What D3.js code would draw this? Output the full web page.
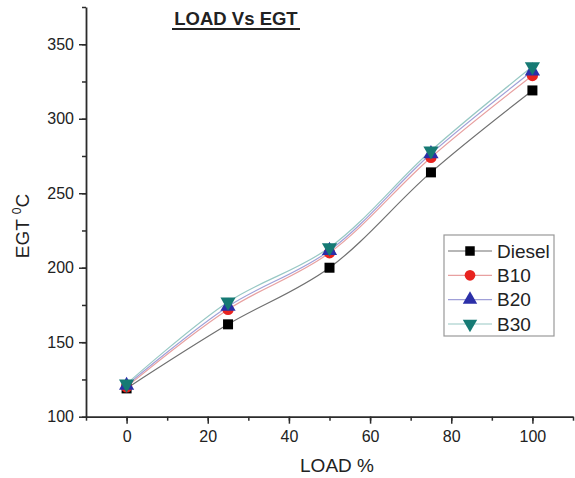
<!DOCTYPE html>
<html>
<head>
<meta charset="utf-8">
<script src="https://cdn.jsdelivr.net/npm/d3@7"></script>
<style>
  body { margin: 0; background: #fff; }
  svg { font-family: "Liberation Sans", Arial, sans-serif; }
</style>
</head>
<body>
<svg id="chart" width="575" height="478"></svg>
<script>
// chart data
const loads = [0, 25, 50, 75, 100]
const diesel = [119, 162, 200, 264, 319]
const b10 = [120, 172, 210, 274, 329]
const b20 = [121, 174, 211.5, 276.5, 332]
const b30 = [122, 177, 213.5, 278.5, 335]
const xTicks = [0, 20, 40, 60, 80, 100]
const yTicks = [100, 150, 200, 250, 300, 350]

const series = [
  { name: 'Diesel', values: diesel, line: '#707070', fill: '#000', shape: d3.symbolSquare },
  { name: 'B10', values: b10, line: '#e8a0a0', fill: '#e8231f', shape: d3.symbolCircle },
  { name: 'B20', values: b20, line: '#a0a0d8', fill: '#2b2fa8', shape: d3.symbolTriangle },
  { name: 'B30', values: b30, line: '#98c8c4', fill: '#167a74', shape: 'down' }
]

const svg = d3.select('#chart')
const x = d3.scaleLinear().domain([-10, 110]).range([86, 573])
const y = d3.scaleLinear().domain([100, 375]).range([416.7, 7])

const axisColor = '#2b2b2b'

// minor ticks
svg.append('g').attr('transform', 'translate(0,416.7)')
  .call(d3.axisBottom(x).tickValues(d3.range(-10, 111, 10)).tickSize(4).tickFormat(''))
  .call(g => g.select('.domain').remove())
svg.append('g').attr('transform', 'translate(86,0)')
  .call(d3.axisLeft(y).tickValues(d3.range(100, 376, 25)).tickSize(4).tickFormat(''))
  .call(g => g.select('.domain').remove())

// major axes
svg.append('g').attr('transform', 'translate(0,416.7)')
  .call(d3.axisBottom(x).tickValues(xTicks).tickSize(7).tickSizeOuter(0).tickPadding(7))
svg.append('g').attr('transform', 'translate(86,0)')
  .call(d3.axisLeft(y).tickValues(yTicks).tickSize(7).tickSizeOuter(0).tickPadding(5))

svg.selectAll('.tick line').attr('stroke', axisColor).attr('stroke-width', 1.5)
svg.selectAll('.domain').attr('stroke', axisColor).attr('stroke-width', 1.8)
svg.selectAll('.tick text').attr('fill', '#222').style('font-size', '16px')

// lines
const line = d3.line()
  .x((d, i) => x(loads[i]))
  .y(d => y(d))
  .curve(d3.curveCatmullRom.alpha(0.5))

series.forEach(s => {
  svg.append('path')
    .attr('d', line(s.values))
    .attr('fill', 'none')
    .attr('stroke', s.line)
    .attr('stroke-width', 1.2)
})

function symbolPath (shape, size) {
  if (shape === 'down') {
    return d3.symbol().type(d3.symbolTriangle).size(size)()
  }
  return d3.symbol().type(shape).size(size)()
}

series.forEach(s => {
  svg.append('g').selectAll('path')
    .data(s.values)
    .join('path')
    .attr('d', symbolPath(s.shape, 100))
    .attr('transform', (d, i) => `translate(${x(loads[i])},${y(d)})${s.shape === 'down' ? ' rotate(180)' : ''}`)
    .attr('fill', s.fill)
})

// title
svg.append('text')
  .attr('x', 236).attr('y', 25)
  .attr('text-anchor', 'middle')
  .style('font-size', '18.5px').style('font-weight', 'bold')
  .attr('fill', '#222')
  .text('LOAD Vs EGT')
svg.append('line')
  .attr('x1', 172).attr('x2', 300).attr('y1', 29).attr('y2', 29)
  .attr('stroke', '#222').attr('stroke-width', 1.8)

// axis labels
svg.append('text')
  .attr('x', 337).attr('y', 472)
  .attr('text-anchor', 'middle')
  .style('font-size', '19px')
  .attr('fill', '#222')
  .text('LOAD %')

const yl = svg.append('text')
  .attr('transform', 'translate(29,226) rotate(-90)')
  .attr('text-anchor', 'middle')
  .style('font-size', '19px')
  .attr('fill', '#222')
yl.append('tspan').text('EGT ')
yl.append('tspan').attr('dy', -8).style('font-size', '12px').text('0')
yl.append('tspan').attr('dy', 8).text('C')

// legend
const legend = svg.append('g')
legend.append('rect')
  .attr('x', 444).attr('y', 235).attr('width', 110).attr('height', 101)
  .attr('fill', '#fff').attr('stroke', '#999').attr('stroke-width', 1.2)

const ly = d3.scalePoint().domain(series.map(s => s.name)).range([251, 324])
series.forEach(s => {
  const yy = ly(s.name)
  legend.append('line')
    .attr('x1', 448).attr('x2', 492).attr('y1', yy).attr('y2', yy)
    .attr('stroke', s.line).attr('stroke-width', 1.2)
  legend.append('path')
    .attr('d', symbolPath(s.shape, 90))
    .attr('transform', `translate(470,${yy})${s.shape === 'down' ? ' rotate(180)' : ''}`)
    .attr('fill', s.fill)
  legend.append('text')
    .attr('x', 497).attr('y', yy)
    .attr('dy', '0.35em')
    .style('font-size', '19px')
    .attr('fill', '#222')
    .text(s.name)
})
</script>
</body>
</html>
